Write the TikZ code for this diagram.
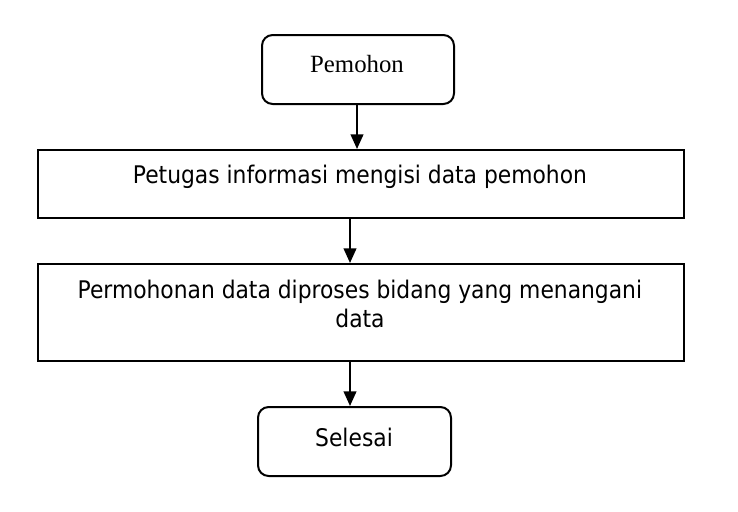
\documentclass[tikz,border=0pt]{standalone}
\usepackage{fontspec}
\setmainfont{DejaVu Sans Condensed}
\newfontfamily\serifx{Liberation Serif}
\usetikzlibrary{arrows.meta}
\begin{document}
\begin{tikzpicture}[x=0.75pt,y=-0.75pt,
  box/.style={draw,line width=1.5pt,inner sep=0pt,anchor=north west},
  rbox/.style={box,rounded corners=8pt},
  txt/.style={inner sep=0pt,font=\fontsize{18.2}{21.75}\selectfont,align=center},
  arr/.style={line width=1.5pt,-{Triangle[length=11pt,width=9.5pt]}}]
\useasboundingbox (0,0) rectangle (738,511);
\node[rbox,minimum width=144pt,minimum height=51.75pt] (pem) at (261,34) {};
\node[inner sep=0pt,font=\serifx\fontsize{18.6}{22}\selectfont] (pemt) at (357,64) {Pemohon};
\node[box,minimum width=484.5pt,minimum height=51pt] (pet) at (37,149) {};
\node[txt] (pett) at (360,177) {Petugas informasi mengisi data pemohon};
\node[txt] (permt) at (360,304) {Permohonan data diproses bidang yang menangani\\data};
\node[box,minimum width=484.5pt,minimum height=72.75pt] (perm) at (37,263) {};
\node[rbox,minimum width=144.75pt,minimum height=51.75pt] (sel) at (257,406) {};
\node[txt] (selt) at (354,437) {Selesai};
\draw[arr] (pem.south -| 357,0) -- (pet.north -| 357,0);
\draw[arr] (pet.south -| 350,0) -- (perm.north -| 350,0);
\draw[arr] (perm.south -| 350,0) -- (sel.north -| 350,0);
\end{tikzpicture}
\end{document}
